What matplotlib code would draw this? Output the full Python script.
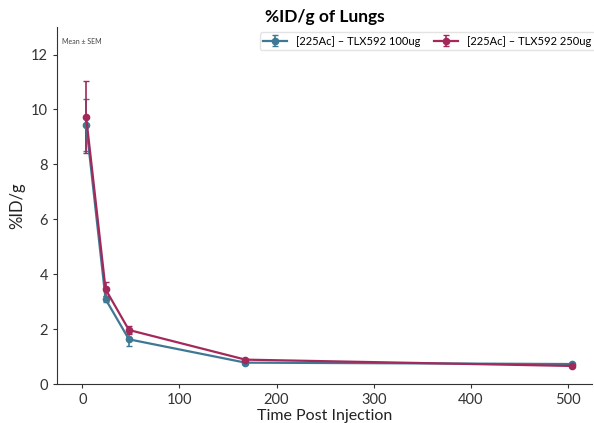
import numpy as np
import matplotlib
matplotlib.use('Agg')
import matplotlib.pyplot as plt

plt.rcParams['font.family'] = ['Lato', 'DejaVu Sans']

hours = [4, 24, 48, 168, 504]
lo_dose = [9.44, 3.09, 1.63, 0.78, 0.73]
lo_sem = [0.94, 0.10, 0.23, 0.04, 0.04]
hi_dose = [9.72, 3.45, 1.97, 0.89, 0.66]
hi_sem = [1.32, 0.26, 0.15, 0.04, 0.03]
labels = ['[225Ac] – TLX592 100ug', '[225Ac] – TLX592 250ug']

blue = '#3f7893'
red = '#a3295a'

fig = plt.figure(figsize=(5.94, 4.23), dpi=100)
ax = fig.add_axes([0.096, 0.092, 0.901, 0.844])

ax.errorbar(hours, lo_dose, yerr=lo_sem, color=blue, marker='o', markersize=4.5,
            linewidth=1.6, capsize=2.5, elinewidth=1.2, label=labels[0])
ax.errorbar(hours, hi_dose, yerr=hi_sem, color=red, marker='o', markersize=4.5,
            linewidth=1.6, capsize=2.5, elinewidth=1.2, label=labels[1])

ax.set_xlim(-26, 525)
ax.set_ylim(0, 13)
ax.set_xticks([0, 100, 200, 300, 400, 500])
ax.set_yticks([0, 2, 4, 6, 8, 10, 12])
ax.tick_params(labelsize=10.5, colors='#333333', length=3)
ax.spines['top'].set_visible(False)
ax.spines['right'].set_visible(False)
for s in ['left', 'bottom']:
    ax.spines[s].set_color('#333333')

ax.set_xlabel('Time Post Injection', fontsize=11.5, color='#222222', labelpad=1)
ax.set_ylabel('%ID/g', fontsize=12, color='#222222', labelpad=4)
ax.set_title('%ID/g of Lungs', fontsize=12.5, fontweight='bold', pad=4)
ax.text(0.01, 0.97, 'Mean ± SEM', transform=ax.transAxes, fontsize=5,
        color='#444444', va='top')

ax.legend(loc='upper right', ncol=2, fontsize=8, frameon=True,
          edgecolor='#dddddd', borderaxespad=0.0, handlelength=2.2,
          columnspacing=1.2, borderpad=0.3, bbox_to_anchor=(1.005, 0.985))

plt.savefig('out.png', dpi=100)
